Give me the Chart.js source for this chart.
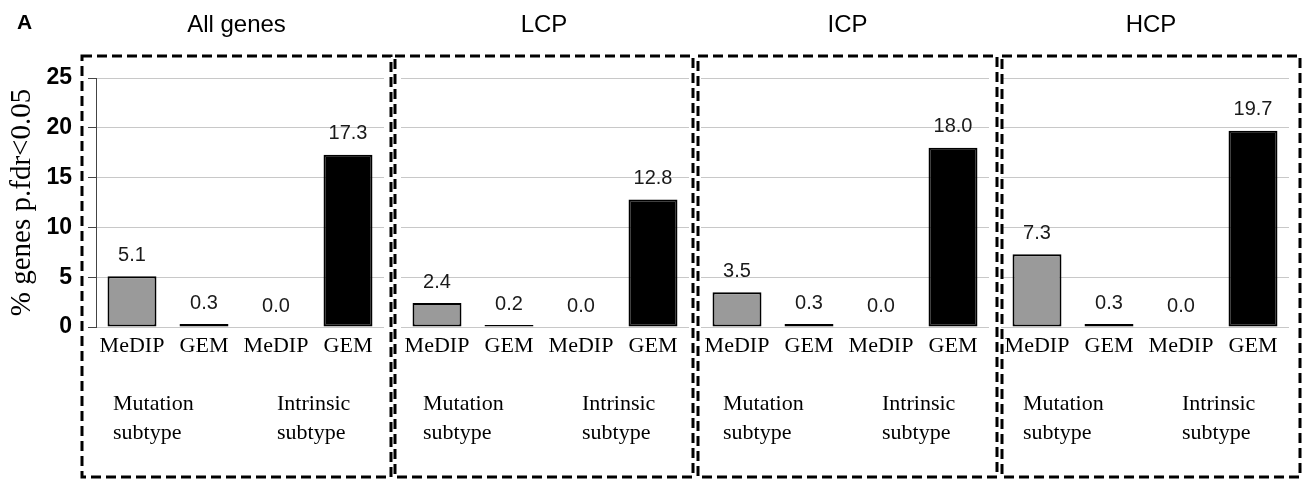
<!DOCTYPE html>
<html lang="en">
<head>
<meta charset="UTF-8">
<title>% genes p.fdr&lt;0.05</title>
<style>
  body { margin: 0; background: #fff; }
  #wrap { position: relative; width: 1316px; height: 481px; }
  #wrap canvas { position: absolute; left: 0; top: 0; }
</style>
</head>
<body>
<div id="wrap">
  <canvas id="c0" width="1316" height="481"></canvas>
  <canvas id="c1" width="1316" height="481"></canvas>
  <canvas id="c2" width="1316" height="481"></canvas>
  <canvas id="c3" width="1316" height="481"></canvas>
</div>
<script src="https://cdn.jsdelivr.net/npm/chart.js"></script>
<script>
// data
const panelTitles = ['All genes', 'LCP', 'ICP', 'HCP'];
const methodLabels = ['MeDIP', 'GEM', 'MeDIP', 'GEM'];
const allGenes = [5.1, 0.3, 0.0, 17.3];
const lcp = [2.4, 0.2, 0.0, 12.8];
const icp = [3.5, 0.3, 0.0, 18.0];
const hcp = [7.3, 0.3, 0.0, 19.7];
const groupLabels = [['Mutation', 'subtype'], ['Intrinsic', 'subtype']];
const yTicks = [0, 5, 10, 15, 20, 25];
const yTitle = '% genes p.fdr<0.05';

const panelValues = [allGenes, lcp, icp, hcp];

// layout of each panel (pixels on the page)
const layoutPanels = [
  { plotLeft: 96,   plotRight: 384,  boxLeft: 82,   boxRight: 391, groupShift: -19 },
  { plotLeft: 401,  plotRight: 689,  boxLeft: 395,  boxRight: 693, groupShift: -14 },
  { plotLeft: 701,  plotRight: 989,  boxLeft: 698,  boxRight: 997, groupShift: -14 },
  { plotLeft: 1001, plotRight: 1289, boxLeft: 1002, boxRight: 1300, groupShift: -14 }
];

const W = 1316, H = 481;
const barColors = ['#9a9a9a', '#9a9a9a', '#9a9a9a', '#000000'];
const serif = "'Liberation Serif', 'Times New Roman', serif";
const sans = "'Liberation Sans', Arial, sans-serif";

const panelDecor = {
  id: 'panelDecor',
  afterDatasetsDraw(chart, args, opts) {
    const i = opts.index;
    const lp = layoutPanels[i];
    const ctx = chart.ctx;
    const xs = chart.scales.x;
    ctx.save();

    // value labels above bars
    ctx.fillStyle = '#1a1a1a';
    ctx.font = '20px ' + sans;
    ctx.textAlign = 'center';
    ctx.textBaseline = 'middle';
    chart.getDatasetMeta(0).data.forEach((bar, j) => {
      ctx.fillText(panelValues[i][j].toFixed(1), bar.x, bar.y - 21);
    });

    // group labels
    ctx.fillStyle = '#000';
    ctx.font = '22px ' + serif;
    ctx.textAlign = 'left';
    ctx.textBaseline = 'alphabetic';
    const gx = [xs.getPixelForValue(0) + lp.groupShift, xs.getPixelForValue(2) + 1];
    groupLabels.forEach((lines, g) => {
      lines.forEach((t, k) => ctx.fillText(t, gx[g], 410 + k * 29));
    });

    // dashed box
    ctx.strokeStyle = '#000';
    ctx.lineWidth = 3;
    ctx.setLineDash([10, 5]);
    ctx.strokeRect(lp.boxLeft, 56, lp.boxRight - lp.boxLeft, 421);
    ctx.setLineDash([]);

    // panel title
    ctx.font = '24px ' + sans;
    ctx.textAlign = 'center';
    ctx.fillText(panelTitles[i], (lp.boxLeft + lp.boxRight) / 2, 32);

    if (i === 0) {
      ctx.font = 'bold 21px ' + sans;
      ctx.textAlign = 'left';
      ctx.fillText('A', 17, 29);
    }
    ctx.restore();
  }
};

function makeChart(i) {
  const lp = layoutPanels[i];
  const first = i === 0;
  return new Chart(document.getElementById('c' + i), {
    type: 'bar',
    data: {
      labels: methodLabels,
      datasets: [{
        data: panelValues[i],
        backgroundColor: barColors,
        borderColor: '#000',
        borderWidth: 2,
        borderSkipped: false,
        barPercentage: 0.68,
        categoryPercentage: 1
      }]
    },
    options: {
      responsive: false,
      animation: false,
      events: [],
      layout: { padding: { left: first ? 0 : lp.plotLeft, right: W - lp.plotRight, top: 78, bottom: 0 } },
      plugins: {
        legend: { display: false },
        tooltip: { enabled: false },
        panelDecor: { index: i }
      },
      scales: {
        x: {
          grid: { display: false, drawTicks: false },
          border: { display: false },
          ticks: {
            color: '#000',
            font: { family: serif, size: 22 },
            padding: 6,
            maxRotation: 0,
            autoSkip: false
          },
          afterFit: s => { s.height = H - 327; }
        },
        y: {
          min: 0,
          max: 25,
          afterBuildTicks: s => { s.ticks = yTicks.map(v => ({ value: v })); },
          ticks: {
            display: first,
            color: '#000',
            font: { family: sans, size: 23, weight: 'bold' },
            padding: 16
          },
          grid: { color: '#c8c8c8', drawTicks: first, tickLength: 8, tickColor: '#444' },
          border: { display: first, color: '#444' },
          title: {
            display: first,
            text: yTitle,
            color: '#000',
            font: { family: serif, size: 29 },
            padding: { top: 5, bottom: 0 }
          },
          afterFit: s => { s.width = first ? 96 : 0; }
        }
      }
    },
    plugins: [panelDecor]
  });
}

panelTitles.forEach((t, i) => makeChart(i));
</script>
</body>
</html>
